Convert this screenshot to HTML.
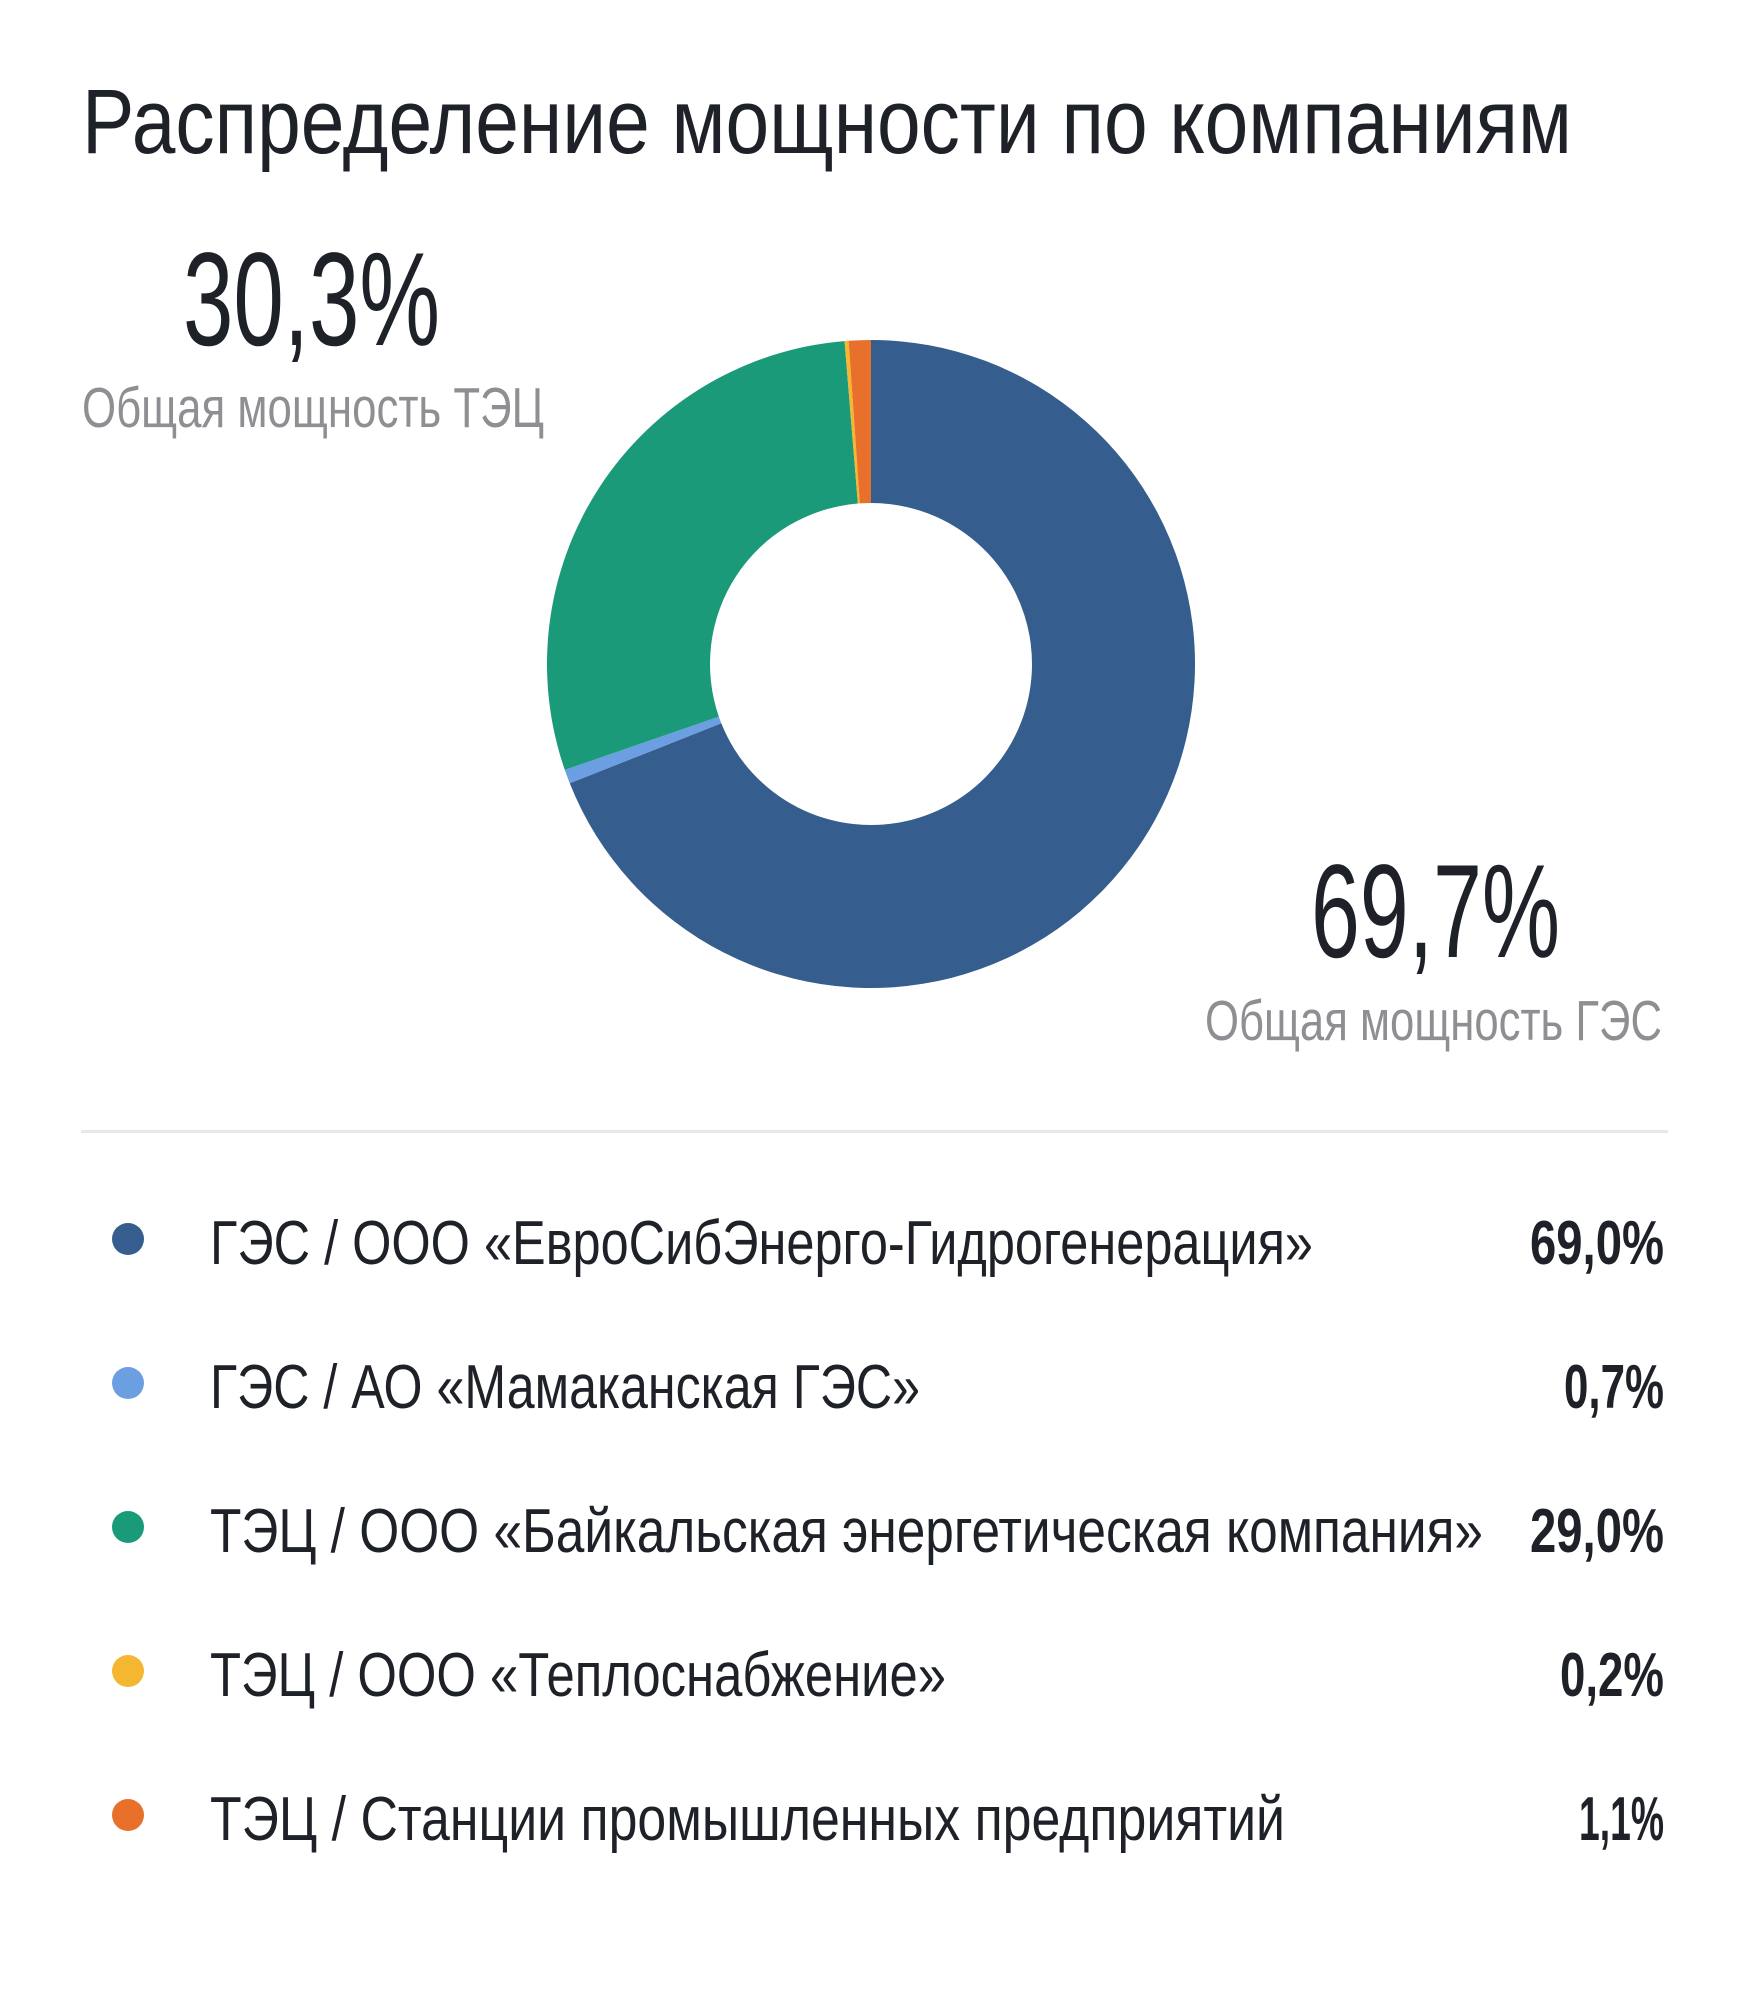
<!DOCTYPE html>
<html><head><meta charset="utf-8"><style>
html,body{margin:0;padding:0;background:#fff;}
svg{display:block;}
text{font-family:"Liberation Sans","DejaVu Sans",sans-serif;}
</style></head><body>
<svg id="chart" width="1740" height="2000" viewBox="0 0 1740 2000" xmlns="http://www.w3.org/2000/svg">
<text x="82" y="153" font-size="92" fill="#1e2228" textLength="1490" lengthAdjust="spacingAndGlyphs">Распределение мощности по компаниям</text>
<text x="183" y="345" font-size="133" fill="#1e2228" textLength="257" lengthAdjust="spacingAndGlyphs">30,3%</text>
<text x="82" y="427" font-size="57" fill="#8e8e93" textLength="462" lengthAdjust="spacingAndGlyphs">Общая мощность ТЭЦ</text>
<text x="1311" y="957" font-size="133" fill="#1e2228" textLength="249" lengthAdjust="spacingAndGlyphs">69,7%</text>
<text x="1205" y="1040" font-size="57" fill="#8e8e93" textLength="457" lengthAdjust="spacingAndGlyphs">Общая мощность ГЭС</text>
<g id="donut"></g>
<rect x="81" y="1130" width="1587" height="3" fill="#e8e8e8"/>
<g id="legend"></g>
</svg>
<script>
const categories = ["ГЭС / ООО «ЕвроСибЭнерго-Гидрогенерация»","ГЭС / АО «Мамаканская ГЭС»","ТЭЦ / ООО «Байкальская энергетическая компания»","ТЭЦ /  ООО «Теплоснабжение»","ТЭЦ / Станции промышленных предприятий"];
const values = [69.0, 0.7, 29.0, 0.2, 1.1];
const valueLabels = ["69,0%","0,7%","29,0%","0,2%","1,1%"];
const colors = ["#355d8d","#6b9fe2","#1a9a78","#f5b731","#e8702a"];
const labelWidths = [1103, 710, 1273, 736, 1075];
const valueWidths = [134, 100, 134, 104, 85];

const NS = "http://www.w3.org/2000/svg";
const cx = 871, cy = 664, rO = 324, rI = 161;
const total = values.reduce((a,b)=>a+b,0);
function angle(v){ return v/total*2*Math.PI; }
function pt(r,a){ return [cx + r*Math.sin(a), cy - r*Math.cos(a)]; }
const donut = document.getElementById('donut');
let acc = 0;
values.forEach((v,i)=>{
  const a0 = angle(acc), a1 = angle(acc+v); acc += v;
  const large = (a1-a0) > Math.PI ? 1 : 0;
  const p0=pt(rO,a0), p1=pt(rO,a1), p2=pt(rI,a1), p3=pt(rI,a0);
  const d = `M${p0[0]},${p0[1]} A${rO},${rO} 0 ${large} 1 ${p1[0]},${p1[1]} L${p2[0]},${p2[1]} A${rI},${rI} 0 ${large} 0 ${p3[0]},${p3[1]} Z`;
  const path = document.createElementNS(NS,'path');
  path.setAttribute('d', d);
  path.setAttribute('fill', colors[i]);
  
  
  donut.appendChild(path);
});

const legend = document.getElementById('legend');
categories.forEach((c,i)=>{
  const base = 1264 + i*144;
  const g = document.createElementNS(NS,'g');
  
  
  const dot = document.createElementNS(NS,'circle');
  dot.setAttribute('cx', 128); dot.setAttribute('cy', base-25); dot.setAttribute('r', 16);
  dot.setAttribute('fill', colors[i]);
  
  
  g.appendChild(dot);
  const t = document.createElementNS(NS,'text');
  t.setAttribute('x', 210); t.setAttribute('y', base);
  t.setAttribute('font-size', 62); t.setAttribute('fill', '#1e2228');
  t.setAttribute('textLength', labelWidths[i]); t.setAttribute('lengthAdjust','spacingAndGlyphs');
  t.setAttribute('xml:space','preserve');
  t.textContent = c;
  
  
  g.appendChild(t);
  const vt = document.createElementNS(NS,'text');
  vt.setAttribute('x', 1664 - valueWidths[i]); vt.setAttribute('y', base);
  vt.setAttribute('font-size', 62); vt.setAttribute('fill', '#1e2228');
  vt.setAttribute('font-weight', 'bold');
  vt.setAttribute('textLength', valueWidths[i]); vt.setAttribute('lengthAdjust','spacingAndGlyphs');
  vt.textContent = valueLabels[i];
  
  
  g.appendChild(vt);
  legend.appendChild(g);
});
</script>
</body></html>
